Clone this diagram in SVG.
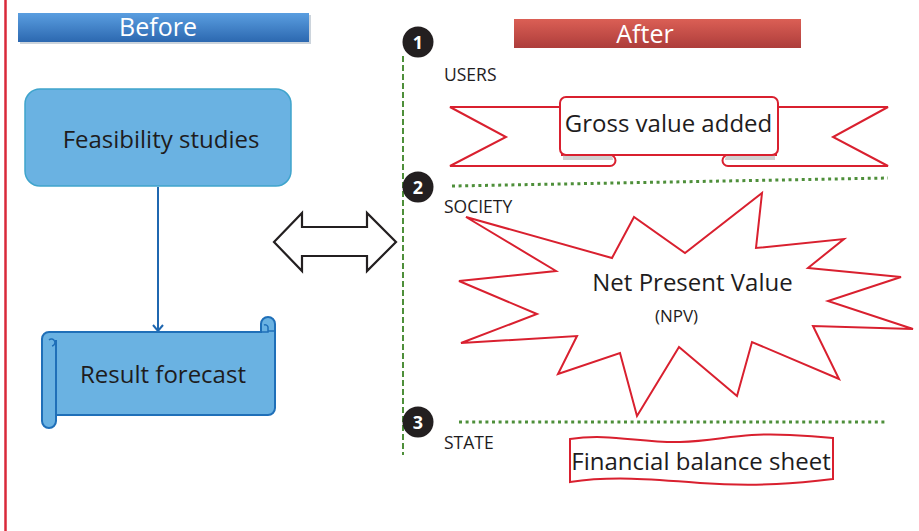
<svg xmlns="http://www.w3.org/2000/svg" width="919" height="531" viewBox="0 0 919 531">
<defs>
<style>
text{font-family:"Open Sans","Noto Sans","DejaVu Sans",sans-serif;}
.lbl{font-size:24px;fill:#1e1c1d;text-anchor:middle;}
.sec{font-size:17.5px;fill:#1e1c1d;}
.hdr{font-size:25px;fill:#ffffff;text-anchor:middle;}
.num{font-size:18px;fill:#ffffff;text-anchor:middle;font-weight:bold;}
.red{fill:#ffffff;stroke:#d9202f;stroke-width:2;stroke-linejoin:miter;}
.dot{fill:none;stroke:#4e8f3a;stroke-width:3;stroke-dasharray:3 3.6;}
.dash{fill:none;stroke:#4e8f3a;stroke-width:2;stroke-dasharray:6 3;}
.blue{fill:#6ab2e2;stroke:#1f6fb8;stroke-width:2;}
</style>
<linearGradient id="gBlue" x1="0" y1="0" x2="0" y2="1">
<stop offset="0" stop-color="#5a9ee0"/>
<stop offset="1" stop-color="#2c68b0"/>
</linearGradient>
<linearGradient id="gRed" x1="0" y1="0" x2="0" y2="1">
<stop offset="0" stop-color="#db5f55"/>
<stop offset="1" stop-color="#ad3d3b"/>
</linearGradient>
<marker id="arr" markerWidth="12" markerHeight="12" refX="10" refY="6" orient="auto" markerUnits="userSpaceOnUse">
<path d="M4 1 L10 6 L4 11" fill="none" stroke="#1f67b0" stroke-width="2"/>
</marker>
</defs>
<rect width="919" height="531" fill="#ffffff"/>
<line x1="5.5" y1="0" x2="5.5" y2="531" stroke="#d9293a" stroke-width="2.5"/>

<g id="before-header">
<rect x="20" y="15" width="291" height="29" fill="#9aa9ba" opacity="0.5"/>
<rect x="18" y="13" width="291" height="29" fill="url(#gBlue)"/>
<text class="hdr" x="158" y="36">Before</text>
</g>

<g id="after-header">
<rect x="514" y="19" width="287" height="29" fill="url(#gRed)"/>
<text class="hdr" x="645" y="43">After</text>
</g>

<g id="connectors">
<line x1="158" y1="187" x2="158" y2="331" stroke="#1f67b0" stroke-width="2" marker-end="url(#arr)"/>
<path d="M274 242 L302 213 V227 H367 V213 L396 242 L367 271 V256 H302 V271 Z" fill="#ffffff" stroke="#231f20" stroke-width="2.2" stroke-linejoin="miter"/>
<line class="dash" x1="403" y1="56" x2="403" y2="455"/>
<line class="dot" x1="452" y1="186" x2="888" y2="178"/>
<line class="dot" x1="459" y1="422" x2="887" y2="422"/>
</g>

<g id="feasibility">
<rect x="25" y="89" width="266" height="97" rx="15" fill="#6ab2e2" stroke="#3fa4cc" stroke-width="1.5"/>
<text class="lbl" x="161" y="148">Feasibility studies</text>
</g>

<g id="result-forecast">
<path class="blue" d="M49 332 H261 V324 A7 7 0 0 1 275 324 V408 A7 7 0 0 1 268 415 H56 V421 A7 7 0 0 1 42 421 V339 A7 7 0 0 1 49 332 Z"/>
<path d="M56 340 V415" fill="none" stroke="#1f6fb8" stroke-width="2"/>
<path d="M49 340 A3.5 3.5 0 1 1 52 346 M 261 332 H268 V327 A3 3 0 0 0 264 325" fill="none" stroke="#1f6fb8" stroke-width="1.5"/>
<path d="M268 331 H275" fill="none" stroke="#1f6fb8" stroke-width="1.5"/>
<text class="lbl" x="163" y="383">Result forecast</text>
</g>

<g id="step1">
<circle cx="418" cy="42" r="15.5" fill="#231f20"/>
<text class="num" x="418" y="48.5">1</text>
<text class="sec" x="444" y="81">USERS</text>
</g>

<g id="step2">
<circle cx="418" cy="187" r="15.5" fill="#231f20"/>
<text class="num" x="418" y="193.5">2</text>
<text class="sec" x="444" y="213">SOCIETY</text>
</g>

<g id="step3">
<circle cx="418" cy="422" r="15.5" fill="#231f20"/>
<text class="num" x="418" y="428.5">3</text>
<text class="sec" x="444" y="449">STATE</text>
</g>

<g id="gross-value-added">
<path class="red" d="M562 107 H450 L506 137 L450 166 H610 A5.5 5.5 0 0 0 610 155 H562 Z"/>
<path class="red" d="M776 107 H888 L833 137 L888 166 H728 A5.5 5.5 0 0 1 728 155 H776 Z"/>
<path d="M563 155.5 H611 A5 5 0 0 1 613 160 H563 Z" fill="#d0d0d0"/>
<path d="M775 155.5 H727 A5 5 0 0 0 725 160 H775 Z" fill="#d0d0d0"/>
<rect class="red" x="560" y="97" width="218" height="58" rx="6"/>
<text class="lbl" x="668.5" y="132">Gross value added</text>
</g>

<g id="npv">
<polygon class="red" points="466,217 612,258 634,217 685,253 762,193 756,248 844,239 808,268 901,277 828,301 913,329 813,326 839,379 752,342 737,396 679,347 637,416 620,353 558,374 577,336 461,343 537,314 459,281 556,271"/>
<text class="lbl" x="692.5" y="291">Net Present Value</text>
<text x="676.5" y="322" style="font-size:17px;fill:#1e1c1d;text-anchor:middle">(NPV)</text>
</g>

<g id="financial-balance-sheet">
<path class="red" d="M570 439 C610 433 640 443 680 442 C720 441 740 432 790 435 C810 436 822 437 833 438 V479 C800 483 760 487 700 483 C650 479 610 476 570 482 Z"/>
<text class="lbl" x="701" y="470">Financial balance sheet</text>
</g>
</svg>
